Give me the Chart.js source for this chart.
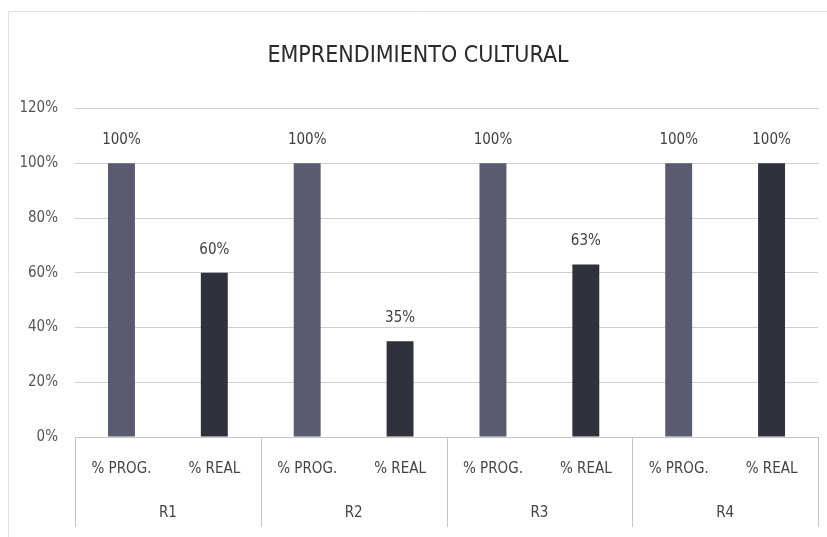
<!DOCTYPE html>
<html>
<head>
<meta charset="utf-8">
<script src="https://cdn.jsdelivr.net/npm/chart.js@4.4.1/dist/chart.umd.min.js"></script>
<style>
  html, body { margin: 0; padding: 0; background: #fff; }
  #wrap { width: 827px; height: 537px; }
</style>
</head>
<body>
<div id="wrap"><canvas id="myChart" width="827" height="537"></canvas></div>
<script>
// data
var groups = ["R1", "R2", "R3", "R4"];
var subLabels = ["% PROG.", "% REAL", "% PROG.", "% REAL", "% PROG.", "% REAL", "% PROG.", "% REAL"];
var values = [100, 60, 100, 35, 100, 63, 100, 100];
var yTicks = [0, 20, 40, 60, 80, 100, 120];

var barColors = ['#5a5a70', '#31313d', '#5a5a70', '#31313d', '#5a5a70', '#31313d', '#5a5a70', '#31313d'];
var font = "'Liberation Sans Narrow', 'DejaVu Sans Condensed', sans-serif";

// labels above each bar
var barLabels = {
    id: 'barLabels',
    afterDatasetsDraw: function(chart) {
        var ctx = chart.ctx;
        var meta = chart.getDatasetMeta(0);
        ctx.save();
        ctx.font = "15px " + font;
        ctx.fillStyle = '#404040';
        ctx.textAlign = 'center';
        ctx.textBaseline = 'middle';
        meta.data.forEach(function(bar, i) {
            ctx.fillText(values[i] + '%', bar.x, bar.y - 23);
        });
        ctx.restore();
    }
};

// separators between R groups + outer frame
var groupLines = {
    id: 'groupLines',
    beforeDraw: function(chart) {
        var ctx = chart.ctx;
        ctx.save();
        ctx.strokeStyle = '#e2e2e2';
        ctx.lineWidth = 1;
        ctx.beginPath();
        ctx.moveTo(8.5, 537);
        ctx.lineTo(8.5, 11.5);
        ctx.lineTo(827, 11.5);
        ctx.stroke();
        ctx.restore();
    },
    afterDraw: function(chart) {
        var ctx = chart.ctx;
        var x2 = chart.scales.x2;
        var top = chart.scales.y.bottom;
        var bottom = x2.bottom;
        var w = (x2.right - x2.left) / groups.length;
        ctx.save();
        ctx.strokeStyle = '#c4c4c4';
        ctx.lineWidth = 1;
        ctx.beginPath();
        for (var i = 0; i <= groups.length; i++) {
            var px = Math.round(x2.left + i * w) + 0.5;
            ctx.moveTo(px, top);
            ctx.lineTo(px, bottom);
        }
        ctx.stroke();
        ctx.restore();
    }
};

var ctx = document.getElementById("myChart").getContext('2d');
var myChart = new Chart(ctx, {
    type: 'bar',
    data: {
        labels: subLabels,
        datasets: [{
            label: 'EMPRENDIMIENTO CULTURAL',
            data: values,
            backgroundColor: barColors,
            barPercentage: 0.29,
            categoryPercentage: 1.0
        }]
    },
    options: {
        responsive: false,
        animation: false,
        devicePixelRatio: 1,
        layout: {
            padding: { left: 18, right: 9, top: 0, bottom: 10 }
        },
        plugins: {
            legend: { display: false },
            tooltip: { enabled: false },
            title: {
                display: true,
                text: 'EMPRENDIMIENTO CULTURAL',
                color: '#2a2a2a',
                font: { family: font, size: 23, weight: 'normal' },
                padding: { top: 42, bottom: 39 }
            }
        },
        scales: {
            y: {
                min: 0,
                max: 120,
                afterFit: function(scale) { scale.width = 57; },
                afterBuildTicks: function(scale) {
                    scale.ticks = yTicks.map(function(v) { return { value: v }; });
                },
                border: { display: false },
                grid: { color: '#cfcfcf', drawTicks: false },
                ticks: {
                    padding: 17,
                    color: '#555',
                    font: { family: font, size: 15 },
                    callback: function(v) { return v + '%'; }
                }
            },
            x: {
                weight: 0,
                afterFit: function(scale) { scale.height = 45; },
                border: { display: true, color: '#c4c4c4' },
                grid: { display: false },
                ticks: {
                    padding: 15,
                    color: '#444',
                    maxRotation: 0,
                    font: { family: font, size: 15 }
                }
            },
            x2: {
                type: 'category',
                position: 'bottom',
                weight: 1,
                labels: groups,
                offset: true,
                afterFit: function(scale) { scale.height = 45; },
                border: { display: false },
                grid: { display: false },
                ticks: {
                    padding: 14,
                    color: '#444',
                    font: { family: font, size: 15 }
                }
            }
        }
    },
    plugins: [barLabels, groupLines]
});
</script>
</body>
</html>
